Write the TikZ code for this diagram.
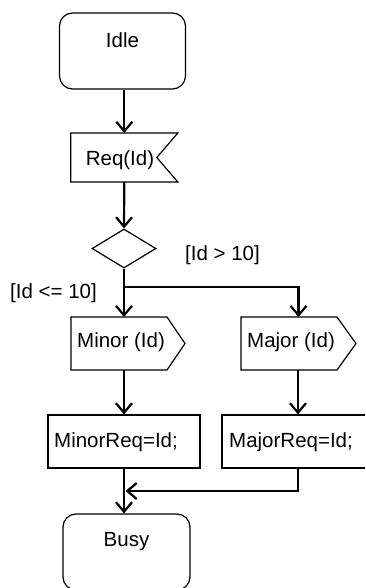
\documentclass[tikz,border=0pt]{standalone}
\usepackage{fontspec}
\setmainfont{Liberation Sans}
\usetikzlibrary{arrows.meta,calc,shapes.geometric}

\tikzset{
  box/.style={draw=none, inner sep=0pt, outer sep=0pt},
  outline/.style={draw=black, line width=1.2pt, line join=miter},
  statebox/.style={draw=black, line width=1.2pt, rounded corners=13pt, inner sep=0pt},
  txt/.style={inner sep=0pt, font=\fontsize{20.5}{24}\selectfont},
  flow/.style={line width=2.2pt, -{Straight Barb[length=9.5pt,width=16pt]}},
  wire/.style={line width=2.2pt},
}

\begin{document}
\begin{tikzpicture}[x=1pt, y=-1pt]
  \useasboundingbox (0,0) rectangle (365,588);
  \clip (0,0) rectangle (365,588);

  % states
  \node[statebox, minimum width=126pt, minimum height=76pt] (idle) at (122.5,51) {};
  \node[txt] (idletxt) at (122.5,40) {Idle};
  \node[statebox, minimum width=127pt, minimum height=76pt] (busy) at (126.5,552) {};
  \node[txt] (busytxt) at (126.5,542) {Busy};

  % input signal with notch on the right
  \node[box, minimum width=107pt, minimum height=49pt] (req) at (124.3,157.5) {};
  \draw[outline] (req.north west) -- (req.north east) -- ($(req.east)+(-21,0)$)
    -- (req.south east) -- (req.south west) -- cycle;
  \node[txt] (reqtxt) at (120,160) {Req(Id)};

  % decision
  \node[draw=black, line width=1.2pt, shape=diamond, inner sep=0pt,
        minimum width=64pt, minimum height=39pt, shape aspect=1.64] (dec) at (124,248.5) {};
  \node[txt, anchor=west] (gthi) at (185,255) {[Id > 10]};
  \node[txt, anchor=west] (gtlo) at (10,293) {[Id <= 10]};

  % output signals
  \node[box, minimum width=114pt, minimum height=53pt] (minor) at (128,343.5) {};
  \draw[outline] (minor.north west) -- ($(minor.north east)+(-18,0)$) -- (minor.east)
    -- ($(minor.south east)+(-18,0)$) -- (minor.south west) -- cycle;
  \node[txt, anchor=west] (minortxt) at (77,342) {Minor (Id)};

  \node[box, minimum width=115pt, minimum height=53pt] (major) at (298.5,343.5) {};
  \draw[outline] (major.north west) -- ($(major.north east)+(-19,0)$) -- (major.east)
    -- ($(major.south east)+(-19,0)$) -- (major.south west) -- cycle;
  \node[txt, anchor=west] (majortxt) at (247,342) {Major (Id)};

  % tasks
  \node[draw=black, line width=1.2pt, inner sep=0pt, minimum width=152pt, minimum height=53pt] (minorreq) at (124,441.5) {};
  \node[txt, anchor=west] (minorreqtxt) at (54,442) {MinorReq=Id;};
  \node[draw=black, line width=1.2pt, inner sep=0pt, minimum width=152pt, minimum height=53pt] (majorreq) at (298,441.5) {};
  \node[txt, anchor=west] (majorreqtxt) at (229,442) {MajorReq=Id;};

  % junction points
  \coordinate (split) at (124,287);
  \coordinate (merge) at (125.5,491);

  % connectors
  \draw[flow] (idle.south -| req.north) -- (req.north);
  \draw[flow] (req.south) -- (dec.north);
  \draw[flow] (dec.south) -- (dec.south |- minor.north);
  \draw[flow] (split) -| (major.north);
  \draw[flow] (minor.south -| minorreq.north) -- (minorreq.north);
  \draw[flow] (major.south -| majorreq.north) -- (majorreq.north);
  \draw[flow] (minorreq.south) -- (minorreq.south |- busy.north);
  \draw[flow] (majorreq.south) |- (merge);
\end{tikzpicture}
\end{document}
